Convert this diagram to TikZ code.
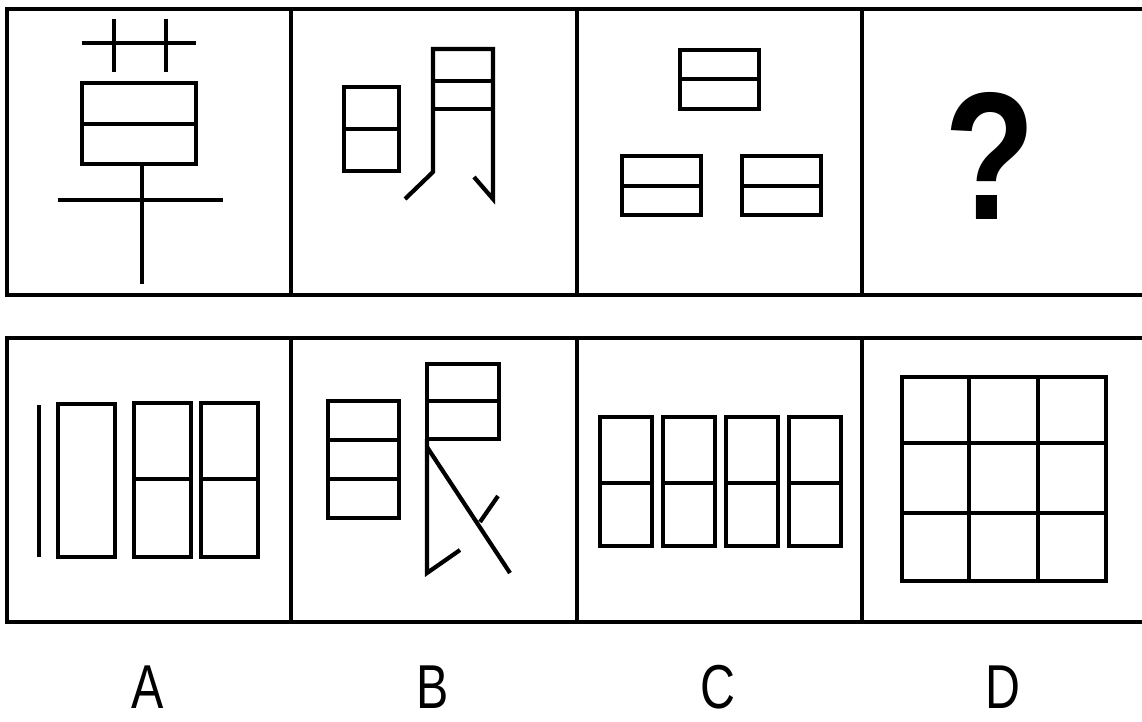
\documentclass[tikz,border=0pt]{standalone}
\usepackage{fontspec}
\setmainfont{Liberation Sans}
\begin{document}
\begin{tikzpicture}[x=1pt,y=-1pt,
  frame/.style={line width=4.5pt},
  stroke/.style={line width=4.2pt},
  lbl/.style={font=\fontsize{62}{62}\selectfont, xscale=0.78, inner sep=0pt, anchor=base}]
\useasboundingbox (0,0) rectangle (1142,722);
\fill[white] (0,0) rectangle (1142,722);
\begin{scope}
\clip (0,0) rectangle (1142,722);
% top row frame
\draw[frame] (1150,9) -- (7,9) -- (7,295) -- (1150,295);
\draw[frame] (291,9) -- (291,295);
\draw[frame] (577,9) -- (577,295);
\draw[frame] (862,9) -- (862,295);
% bottom row frame
\draw[frame] (1150,338) -- (7,338) -- (7,622) -- (1150,622);
\draw[frame] (291,338) -- (291,622);
\draw[frame] (577,338) -- (577,622);
\draw[frame] (862,338) -- (862,622);
\end{scope}
% Panel 1 (cao)
\draw[stroke] (82,43) -- (196,43);
\draw[stroke] (114,19) -- (114,72);
\draw[stroke] (166,19) -- (166,72);
\draw[stroke] (82,83) rectangle (196,164);
\draw[stroke] (82,124) -- (196,124);
\draw[stroke] (58,200) -- (223,200);
\draw[stroke] (142,164) -- (142,284);
% Panel 2 (ming)
\draw[stroke] (344,87) rectangle (399,171);
\draw[stroke] (344,129) -- (399,129);
\draw[stroke] (405,199) -- (433,172) -- (433,49) -- (493,49) -- (493,199) -- (474,177);
\draw[stroke] (433,81) -- (493,81);
\draw[stroke] (433,109) -- (493,109);
% Panel 3 (pin)
\draw[stroke] (680,50) rectangle (759,109);
\draw[stroke] (680,79) -- (759,79);
\draw[stroke] (622,156) rectangle (701,215);
\draw[stroke] (622,186) -- (701,186);
\draw[stroke] (742,156) rectangle (821,215);
\draw[stroke] (742,186) -- (821,186);
% Panel 4
\node[font=\fontsize{182}{182}\selectfont\bfseries, xscale=0.82, inner sep=0pt] (q) at (990,156) {?};
% Option A
\draw[stroke] (39,405) -- (39,557);
\draw[stroke] (58,404) rectangle (115,557);
\draw[stroke] (134,403) rectangle (191,557);
\draw[stroke] (134,479) -- (191,479);
\draw[stroke] (201,403) rectangle (258,557);
\draw[stroke] (201,479) -- (258,479);
% Option B
\draw[stroke] (328,401) rectangle (399,518);
\draw[stroke] (328,440) -- (399,440);
\draw[stroke] (328,479) -- (399,479);
\draw[stroke] (427,364) rectangle (499,439);
\draw[stroke] (427,401) -- (499,401);
\draw[stroke] (427,439) -- (427,573) -- (460,550);
\draw[stroke] (427,447) -- (510,573);
\draw[stroke] (480,522) -- (498,496);
% Option C
\foreach \x in {600,663,726,789}{
  \draw[stroke] (\x,417) rectangle (\x+52,546);
  \draw[stroke] (\x,483) -- (\x+52,483);
}
% Option D
\draw[stroke] (902,377) rectangle (1106,581);
\draw[stroke] (969,377) -- (969,581);
\draw[stroke] (1038,377) -- (1038,581);
\draw[stroke] (902,443) -- (1106,443);
\draw[stroke] (902,513) -- (1106,513);
% labels
\node[lbl] (la) at (148,708) {A};
\node[lbl] (lb) at (433,708) {B};
\node[lbl] (lc) at (718,708) {C};
\node[lbl] (ld) at (1003,708) {D};
\end{tikzpicture}
\end{document}
